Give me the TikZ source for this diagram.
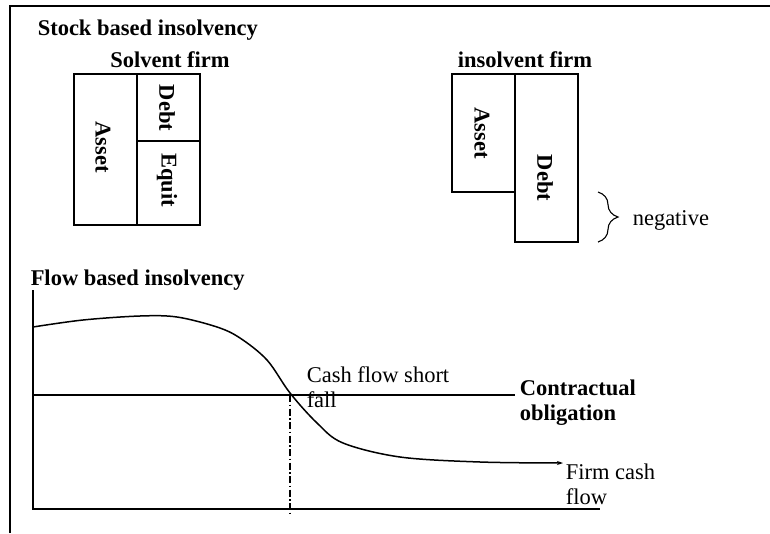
\documentclass[tikz,border=0pt]{standalone}
\usepackage{fontspec}
\setmainfont{Liberation Serif}
\usetikzlibrary{arrows.meta,decorations.pathreplacing}
\begin{document}
\begin{tikzpicture}[x=1pt,y=-1pt,
  line width=1.5pt,
  lbl/.style={font=\fontsize{22.5}{25}\selectfont, inner sep=0pt, align=left},
  blbl/.style={font=\fontsize{22.5}{25}\selectfont\bfseries, inner sep=0pt, align=left},
  boxn/.style={draw, line width=1.5pt, inner sep=0pt, minimum width=63pt},
  rlbl/.style={font=\fontsize{22.5}{25}\selectfont\bfseries, inner sep=0pt, rotate=-90}]
\useasboundingbox (0,0) rectangle (770,533);
% frame
\coordinate (fbl) at (10,533);
\coordinate (ftl) at (10,6);
\coordinate (ftr) at (770,6);
\draw (fbl) -- (ftl) -- (ftr);
% titles
\node[blbl, anchor=west] (stock) at (37,30) {Stock based insolvency};
\node[blbl] (solv) at (170,60) {Solvent firm};
\node[blbl] (insolv) at (525,60) {insolvent firm};
% solvent firm boxes
\node[boxn, minimum height=151pt] (sa) at (105.5,149.5) {};
\node[boxn, minimum height=67pt] (sd) at (168.5,107.5) {};
\node[boxn, minimum height=84pt] (se) at (168.5,183) {};
\node[rlbl] (saT) at (103,147) {Asset};
\node[rlbl] (sdT) at (167,108) {Debt};
\node[rlbl] (seT) at (167,180) {Equit};
% insolvent firm boxes
\node[boxn, minimum height=118pt] (ia) at (483.5,133) {};
\node[boxn, minimum height=168pt] (id) at (546.5,158) {};
\node[rlbl] (iaT) at (482,133) {Asset};
\node[rlbl] (idT) at (545,178) {Debt};
% brace
\coordinate (bt) at (598,192);
\coordinate (bb) at (598,242);
\draw[line width=1.1pt, decorate, decoration={brace, amplitude=20pt}] (bt) -- (bb);
\node[lbl, anchor=west] (neg) at (632,220) {negative};
% flow based
\node[blbl, anchor=west] (flow) at (30,280) {Flow based insolvency};
\coordinate (ytop) at (33,290);
\coordinate (org) at (33,509);
\coordinate (xend) at (600,509);
\draw (ytop) -- (org) -- (xend);
\coordinate (cl) at (33,395);
\coordinate (cr) at (515,395);
\draw (cl) -- (cr);
\node[blbl, anchor=west] (contr) at (519,402.5) {Contractual\\obligation};
\draw[-{Stealth[length=6pt,width=4pt]}] plot[smooth, tension=0.55] coordinates {
 (33,327) (83,320) (140,316) (177,317) (217,327) (240,338) (267,360) (290,393)
 (317,423) (343,443) (400,457) (480,462) (563,463)};
\coordinate (dtop) at (290,395);
\coordinate (dbot) at (290,513);
\draw[line width=1.2pt, dash pattern=on 7pt off 2.5pt on 1.5pt off 2.5pt] (dtop) -- (dbot);
\node[lbl, anchor=west] (short) at (306,387.5) {Cash flow short\\fall};
\node[lbl, anchor=west] (firm) at (565,484.5) {Firm cash\\flow};
\end{tikzpicture}
\end{document}
